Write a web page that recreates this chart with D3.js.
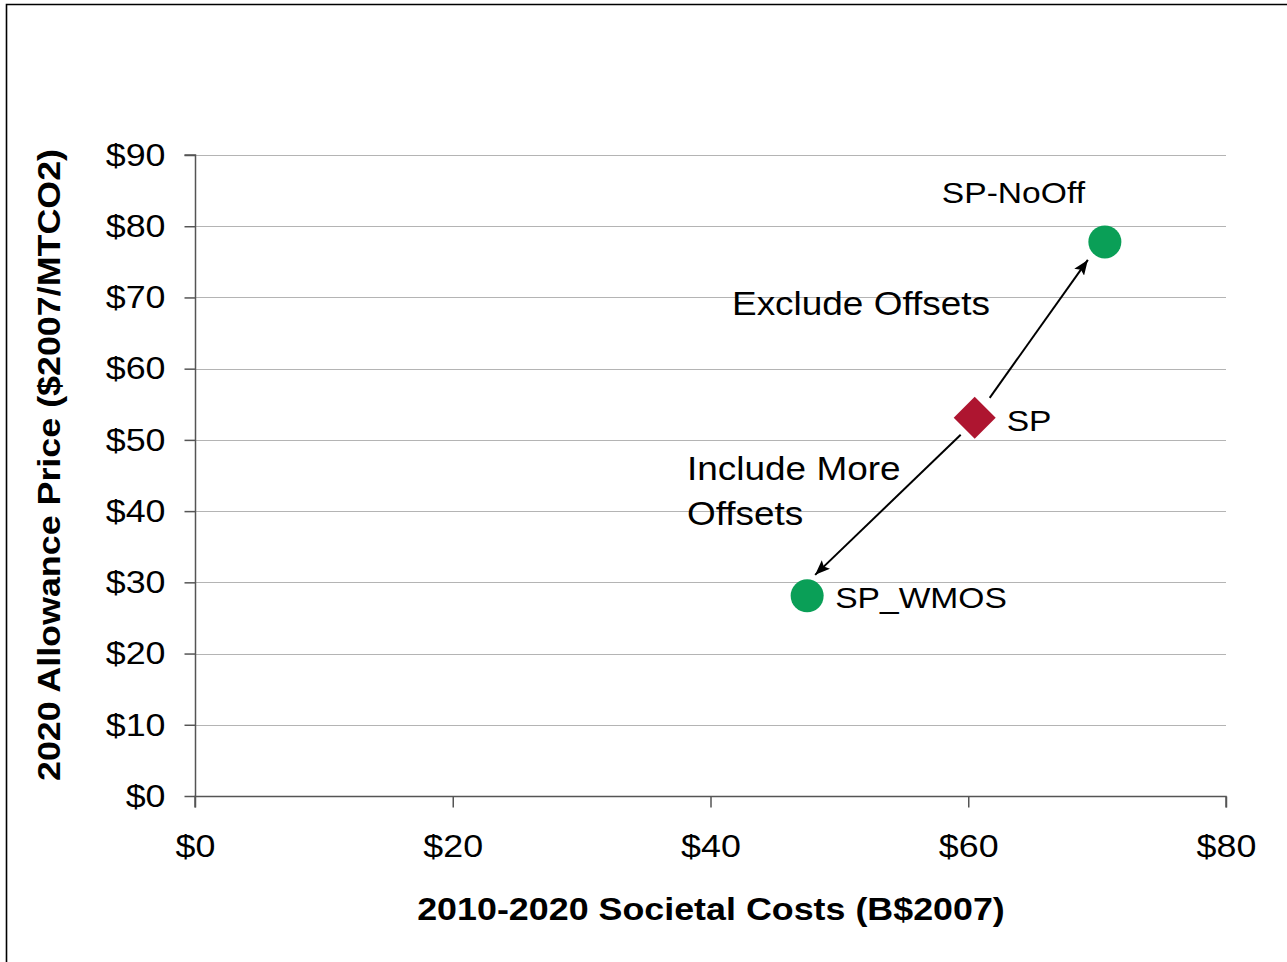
<!DOCTYPE html>
<html><head><meta charset="utf-8">
<script src="https://cdn.jsdelivr.net/npm/d3@7"></script>
<style>body{margin:0;background:#fff}svg{display:block}text{font-family:"Liberation Sans",Arial,sans-serif}</style>
</head><body>
<svg id="c" width="1287" height="962"></svg>
<script>
const xTicks = [0, 20, 40, 60, 80];
const yTicks = [0, 10, 20, 30, 40, 50, 60, 70, 80, 90];
const names = ["SP-NoOff", "SP", "SP_WMOS"];
const costs = [70.6, 60.5, 47.5];
const prices = [77.8, 53.1, 28.1];
const shapes = ["circle", "diamond", "circle"];
const colors = ["#0a9f57", "#ae1530", "#0a9f57"];

const S = 1.12; // horizontal stretch of text
const svg = d3.select("#c");
const x = d3.scaleLinear().domain([0, 80]).range([195, 1226]);
const y = d3.scaleLinear().domain([0, 90]).range([796, 155]);

svg.append("path").attr("d", "M6.5,962V4.5H1287").attr("fill", "none").attr("stroke", "#000").attr("stroke-width", 1.6);

// gridlines
svg.append("g").selectAll("line").data(yTicks.slice(1)).join("line")
  .attr("x1", x(0)).attr("x2", x(80)).attr("y1", d => Math.round(y(d)) + 0.5).attr("y2", d => Math.round(y(d)) + 0.5)
  .attr("stroke", "#b4b4b4").attr("stroke-width", 1.2);

const fmt = d => "$" + d;
const xa = svg.append("g").attr("transform", "translate(0,796.5)")
  .call(d3.axisBottom(x).tickValues(xTicks).tickFormat(fmt).tickSize(11).tickPadding(27));
const ya = svg.append("g").attr("transform", "translate(195.5,0)")
  .call(d3.axisLeft(y).tickValues(yTicks).tickFormat(fmt).tickSize(11).tickPadding(19));
[xa, ya].forEach(a => {
  a.select(".domain").attr("stroke", "#555").attr("stroke-width", 1.5);
  a.selectAll(".tick line").attr("stroke", "#555").attr("stroke-width", 1.5);
  a.selectAll(".tick text").attr("font-size", 32).attr("fill", "#000").attr("font-family", "Liberation Sans, Arial, sans-serif");
});
xa.selectAll(".tick text").attr("transform", `scale(${S},1)`);
ya.selectAll(".tick text").each(function () {
  const t = d3.select(this); const tx = +t.attr("x");
  t.attr("x", 0).attr("transform", `translate(${tx},0) scale(${S},1)`);
});
xa.selectAll(".domain").attr("d", "M" + x(0) + ",11V0H" + x(80) + "V11");
ya.selectAll(".domain").attr("d", "M-11," + y(90) + "H0V" + y(0));

svg.append("text").attr("transform", `translate(711,920) scale(${S},1)`).attr("text-anchor", "middle")
  .attr("font-size", 32).attr("font-weight", "bold").text("2010-2020 Societal Costs (B$2007)");
svg.append("text").attr("transform", `translate(60,465) rotate(-90) scale(${S},1)`).attr("text-anchor", "middle")
  .attr("font-size", 32).attr("font-weight", "bold").text("2020 Allowance Price ($2007/MTCO2)");

// arrows
const defs = svg.append("defs");
defs.append("marker").attr("id", "ah").attr("viewBox", "0 0 15 12").attr("refX", 15).attr("refY", 6)
  .attr("markerWidth", 15).attr("markerHeight", 12).attr("markerUnits", "userSpaceOnUse").attr("orient", "auto")
  .append("path").attr("d", "M0,0L15,6L0,12L3,6Z").attr("fill", "#000");
function arrow(i, j, o0, o1) {
  svg.append("line")
    .attr("x1", x(costs[i]) + o0[0]).attr("y1", y(prices[i]) + o0[1])
    .attr("x2", x(costs[j]) + o1[0]).attr("y2", y(prices[j]) + o1[1])
    .attr("stroke", "#000").attr("stroke-width", 2).attr("marker-end", "url(#ah)");
}
arrow(1, 0, [15, -20], [-17, 18]);
arrow(1, 2, [-14, 17], [8, -21]);

// points
names.forEach((n, i) => {
  const cx = x(costs[i]), cy = y(prices[i]);
  if (shapes[i] === "circle") {
    svg.append("circle").attr("cx", cx).attr("cy", cy).attr("r", 16.5).attr("fill", colors[i]);
  } else {
    svg.append("path").attr("transform", `translate(${cx},${cy})`)
      .attr("d", "M0,-21L21,0L0,21L-21,0Z").attr("fill", colors[i]);
  }
});

function stext(tx, ty, size, str) {
  svg.append("text").attr("transform", `translate(${tx},${ty}) scale(${S},1)`)
    .attr("font-size", size).attr("fill", "#000").text(str);
}
const labels = [
  {t: "SP-NoOff", i: 0, dx: -163, dy: -39},
  {t: "SP", i: 1, dx: 32, dy: 13},
  {t: "SP_WMOS", i: 2, dx: 28, dy: 12}
];
labels.forEach(l => stext(x(costs[l.i]) + l.dx, y(prices[l.i]) + l.dy, 30, l.t));

stext(732, 315, 33, "Exclude Offsets");
stext(687, 480, 33, "Include More");
stext(687, 525, 33, "Offsets");
</script>
</body></html>
